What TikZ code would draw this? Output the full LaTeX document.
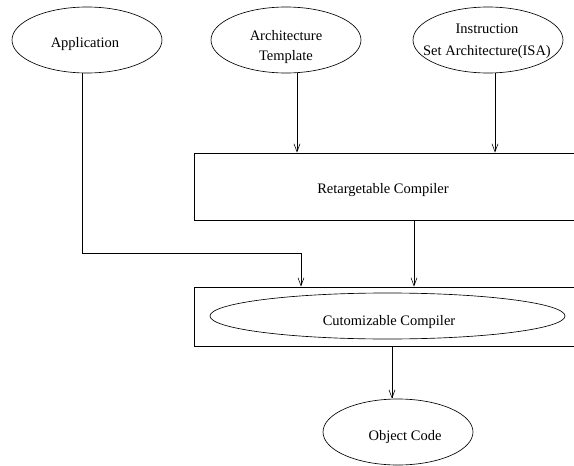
\documentclass[tikz,border=0pt]{standalone}
\usepackage{fontspec}
\setmainfont{Liberation Serif}
\usetikzlibrary{arrows.meta,shapes.geometric}
\begin{document}
\begin{tikzpicture}[x=1pt,y=-1pt,
  txt/.style={font=\fontsize{14.5}{20}\selectfont,align=center,inner sep=0pt},
  oval/.style={draw,ellipse,inner sep=0pt,line width=0.65pt},
  blockbox/.style={draw,rectangle,inner sep=0pt,line width=0.7pt,
    minimum width=384pt},
  flow/.style={draw,line width=0.6pt,-{Straight Barb[length=8pt,width=6pt]}}]
\useasboundingbox (0,0) rectangle (574,466);
\clip (0,0) rectangle (574,466);

% input ellipses
\node[oval,minimum width=150pt,minimum height=66pt] (app)  at (87,40)  {};
\node[oval,minimum width=150pt,minimum height=66pt] (arch) at (286,40) {};
\node[oval,minimum width=150pt,minimum height=66pt] (isa)  at (488,40) {};
\node[txt] (appText)  at (85,44)  {Application};
\node[txt] (archText) at (286,47) {Architecture\\Template};
\node[txt,font=\fontsize{14.5}{22}\selectfont] (isaText) at (487,41) {Instruction\\Set Architecture(ISA)};

% compiler blocks
\node[blockbox,minimum height=67pt] (retarget) at (386,186.5) {};
\node[txt] (retargetText) at (383,190) {Retargetable Compiler};
\node[blockbox,minimum height=59pt] (custbox)  at (386,316.5) {};
\node[oval,minimum width=355pt,minimum height=46pt] (cust) at (387.5,316) {};
\node[txt] (custText) at (389,322) {Cutomizable Compiler};

% output
\node[oval,minimum width=150pt,minimum height=66pt] (obj) at (398,432) {};
\node[txt] (objText) at (405,437) {Object Code};

% x positions of the connectors
\coordinate (xapp) at (82,0);
\coordinate (xarch) at (297,0);
\coordinate (xisa) at (495,0);
\coordinate (xret) at (414,0);
\coordinate (xcust) at (392,0);
\coordinate (appturn) at (301,253);

\draw[flow] (xarch |- arch.south) -- (xarch |- retarget.north);
\draw[flow] (xisa |- isa.south) -- (xisa |- retarget.north);
\draw[flow] (xapp |- app.south) |- (appturn) -- (appturn |- custbox.north);
\draw[flow] (xret |- retarget.south) -- (xret |- custbox.north);
\draw[flow] (xcust |- custbox.south) -- (xcust |- obj.north);
\end{tikzpicture}
\end{document}
